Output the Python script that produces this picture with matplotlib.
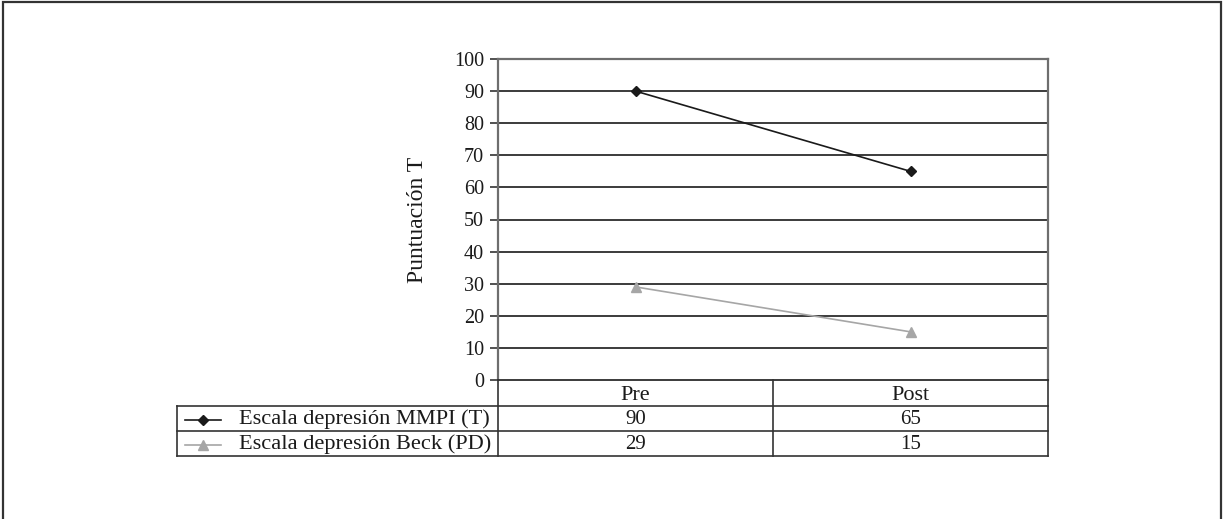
import matplotlib.pyplot as plt
from matplotlib.lines import Line2D
from matplotlib.patches import Rectangle

# data
phases = ["Pre", "Post"]
series_names = ["Escala depresión MMPI (T)", "Escala depresión Beck (PD)"]
mmpi = [90, 65]
beck = [29, 15]
yticks = list(range(0, 101, 10))

plt.rcParams['font.family'] = ['Liberation Serif', 'DejaVu Serif']
plt.rcParams['font.size'] = 14

W, H = 1226, 519
fig = plt.figure(figsize=(W / 100, H / 100), dpi=100)

# outer frame (bottom edge cut off in the original)
fig.add_artist(Rectangle((3 / W, -0.05), 1218 / W, 1.05 - 1.5 / H, transform=fig.transFigure,
                         fill=False, edgecolor="#333333", linewidth=1.6))

# main plot area (pixel box: x 498-1048, y 59-380)
ax = fig.add_axes([498 / W, 1 - 380 / H, 550 / W, 321 / H])
x = list(range(len(phases)))
styles = [
    dict(color="#1a1a1a", marker="D", markersize=5, linewidth=1.2),
    dict(color="#a6a6a6", marker="^", markersize=6.5, linewidth=1.2),
]
ax.plot(x, mmpi, **styles[0], zorder=3)
ax.plot(x, beck, **styles[1], zorder=3)

ax.set_xlim(-0.5, len(phases) - 0.5)
ax.set_ylim(0, 100)
ax.set_yticks(yticks)
ax.set_xticks([])
for yv in yticks[1:-1]:
    ax.axhline(yv, color="#1a1a1a", linewidth=1.2, zorder=1)
for side in ["left", "right", "top"]:
    ax.spines[side].set_color("#6e6e6e")
    ax.spines[side].set_linewidth(1.6)
ax.spines["bottom"].set_color("#1a1a1a")
ax.spines["bottom"].set_linewidth(1.2)
ax.tick_params(axis="y", direction="out", length=6, width=1.2, color="#333333",
               labelsize=14.5, labelcolor="#1a1a1a", pad=4)
ax.set_ylabel("Puntuación T", fontsize=17, color="#1a1a1a")
ax.yaxis.set_label_coords(-0.128, 0.5)

# data table below (pixel coords, y down)
tab = fig.add_axes([177 / W, 1 - 456 / H, 871 / W, 76 / H])
tab.set_xlim(177, 1048)
tab.set_ylim(456, 380)
tab.axis("off")
lc = "#333333"
rows_y = [380, 406, 431, 456]
col_x = [177, 498, 773, 1048]
for yy in rows_y[1:]:
    tab.plot([col_x[0], col_x[-1]], [yy, yy], color=lc, linewidth=1.2, clip_on=False)
tab.plot([col_x[0], col_x[0]], [rows_y[1], rows_y[-1]], color=lc, linewidth=1.2, clip_on=False)
for cx in col_x[1:]:
    tab.plot([cx, cx], [rows_y[0], rows_y[-1]], color=lc, linewidth=1.2, clip_on=False)

# header row
for i, p in enumerate(phases):
    tab.text((col_x[i + 1] + col_x[i + 2]) / 2, (rows_y[0] + rows_y[1]) / 2 + 2, p,
             ha="center", va="center", fontsize=16, color="#1a1a1a")

# series rows with legend keys
for r, (name, vals, st) in enumerate(zip(series_names, [mmpi, beck], styles)):
    yc = (rows_y[r + 1] + rows_y[r + 2]) / 2 + 1
    tab.add_line(Line2D([185, 221], [yc, yc], color=st["color"], linewidth=st["linewidth"],
                        clip_on=False))
    tab.add_line(Line2D([203], [yc], color=st["color"], marker=st["marker"],
                        markersize=st["markersize"], clip_on=False))
    tab.text(239, yc, name, ha="left", va="center", fontsize=16.1, color="#1a1a1a")
    for i, v in enumerate(vals):
        tab.text((col_x[i + 1] + col_x[i + 2]) / 2, yc, str(v),
                 ha="center", va="center", fontsize=15, color="#1a1a1a")

fig.savefig("out.png", dpi=100)
